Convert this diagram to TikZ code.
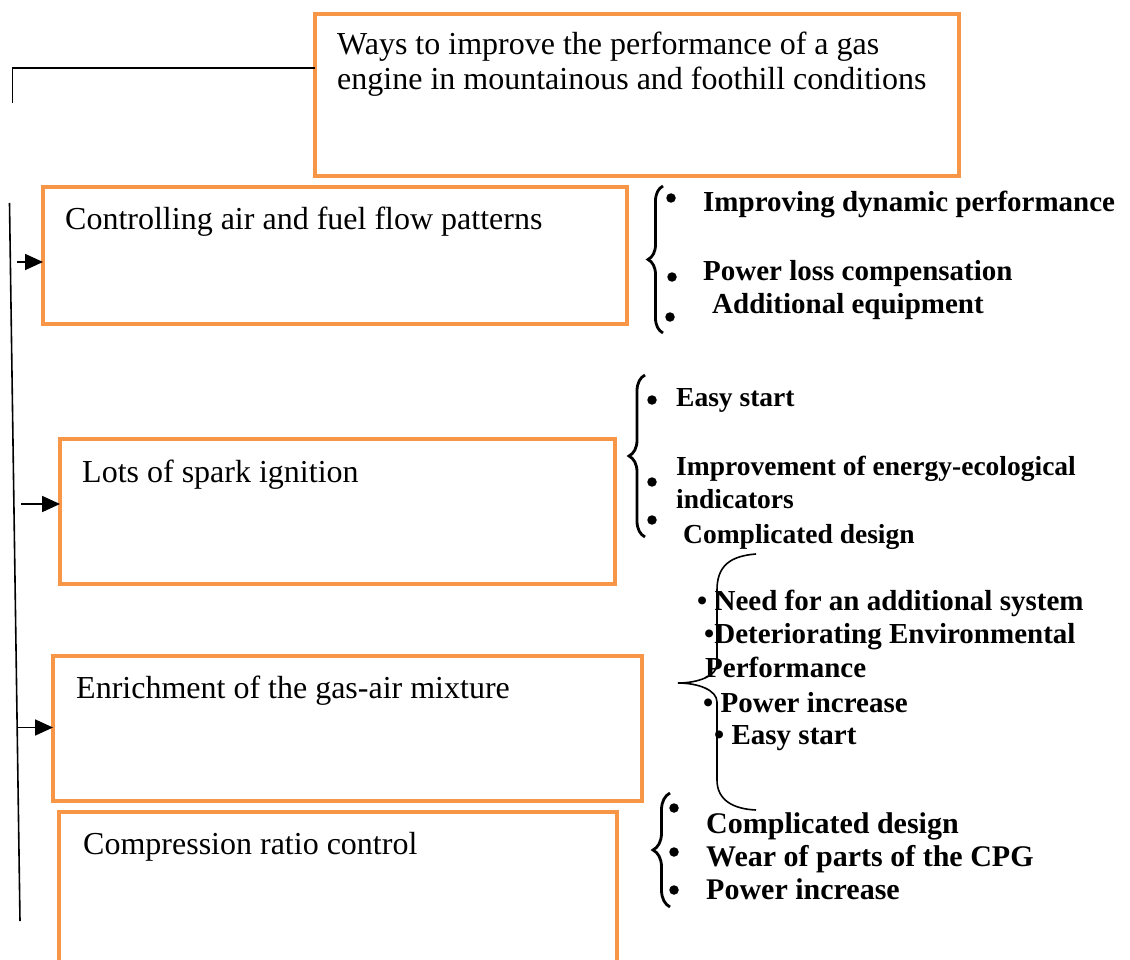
\documentclass[tikz,border=0pt]{standalone}
\usepackage{fontspec}
\setmainfont{Liberation Serif}
\usetikzlibrary{decorations.pathreplacing,arrows.meta}
\definecolor{orangeb}{HTML}{F79646}
\begin{document}
\begin{tikzpicture}[x=1pt,y=-1pt,
  box/.style={draw=orangeb,line width=4pt,inner sep=0pt,outer sep=0pt,anchor=north west},
  reg/.style={font=\fontsize{32}{35}\selectfont,anchor=base west,inner sep=0pt},
  bA/.style={font=\fontsize{29}{33}\selectfont\bfseries,anchor=base west,inner sep=0pt},
  bB/.style={font=\fontsize{27.5}{33}\selectfont\bfseries,anchor=base west,inner sep=0pt},
  bC/.style={font=\fontsize{29}{33}\selectfont\bfseries,anchor=base west,inner sep=0pt},
  bD/.style={font=\fontsize{30}{33}\selectfont\bfseries,anchor=base west,inner sep=0pt},
  dot/.style={circle,fill=black,inner sep=0pt,minimum size=9.5pt},
  thinl/.style={black,line width=1.6pt},
  arr/.style={black,line width=1.8pt,-{Triangle[length=18pt,width=16pt]}},
  brc/.style={black,line width=2.8pt,decorate}]
\clip (0,0) rectangle (1130,960);
\fill[white] (0,0) rectangle (1130,960);
% boxes
\node[box,minimum width=644.5pt,minimum height=162pt] (top) at (314.5,14) {};
\node[box,minimum width=584pt,minimum height=136.5pt] (b1) at (43,187.5) {};
\node[box,minimum width=555pt,minimum height=145pt] (b2) at (60,439) {};
\node[box,minimum width=589pt,minimum height=145.5pt] (b3) at (53,655.5) {};
\node[box,minimum width=558pt,minimum height=178pt] (b4) at (59,812) {};
% box texts
\node[reg] (t1) at (337,55) {Ways to improve the performance of a gas};
\node[reg] (t2) at (337,90) {engine in mountainous and foothill conditions};
\node[reg] (l1) at (65,230) {Controlling air and fuel flow patterns};
\node[reg] (l2) at (82,482) {Lots of spark ignition};
\node[reg] (l3) at (76,698) {Enrichment of the gas-air mixture};
\node[reg] (l4) at (83,854) {Compression ratio control};
% connectors
\coordinate (h1) at (12.5,68);
\coordinate (h2) at (12.5,103);
\draw[thinl] (h1 -| top.west) -- (h1) -- (h2);
\coordinate (v1) at (9.5,203);
\coordinate (v2) at (20,921);
\draw[thinl] (v1) -- (v2);
\coordinate (a1) at (17,262);
\coordinate (a2) at (21,504);
\coordinate (a3) at (18,727.5);
\draw[arr] (a1) -- (a1 -| b1.west);
\draw[arr] (a2) -- (a2 -| b2.west);
\draw[arr] (a3) -- (a3 -| b3.west);
% group 1
\coordinate (g1a) at (663,333);
\coordinate (g1b) at (663,186);
\draw[brc,decoration={brace,amplitude=15pt}] (g1a) -- (g1b);
\node[dot] (p11) at (671,198) {};
\node[dot] (p12) at (672,277) {};
\node[dot] (p13) at (670,317) {};
\node[bA] (r11) at (703,212) {Improving dynamic performance};
\node[bA] (r12) at (703,280) {Power loss compensation};
\node[bA] (r13) at (712,313) {Additional equipment};
% group 2
\coordinate (g2a) at (645,537);
\coordinate (g2b) at (645,375);
\draw[brc,decoration={brace,amplitude=16pt}] (g2a) -- (g2b);
\node[dot] (p21) at (652,400) {};
\node[dot] (p22) at (652,482) {};
\node[dot] (p23) at (652,520) {};
\node[bB] (r21) at (676,406) {Easy start};
\node[bB] (r22) at (676,475) {Improvement of energy-ecological};
\node[bB] (r23) at (676,508) {indicators};
\node[bB] (r24) at (683,543) {Complicated design};
% group 3
\draw[thinl] (756,554) .. controls (730,556) and (717,566) .. (717,590)
  -- (717,664) .. controls (717,676) and (698,683) .. (678,683)
  .. controls (698,683) and (717,690) .. (717,702)
  -- (717,780) .. controls (717,800) and (733,809) .. (756,810);
\node[bC] (r31) at (697,610) {• Need for an additional system};
\node[bC] (r32) at (704,643) {•Deteriorating Environmental};
\node[bC] (r33) at (705,677) {Performance};
\node[bC] (r34) at (703,712) {• Power increase};
\node[bC] (r35) at (714,744) {• Easy start};
% group 4
\coordinate (g4a) at (670,907);
\coordinate (g4b) at (670,793);
\draw[brc,decoration={brace,amplitude=17pt}] (g4a) -- (g4b);
\node[dot] (p41) at (674,808) {};
\node[dot] (p42) at (674,852) {};
\node[dot] (p43) at (674,890) {};
\node[bD] (r41) at (706,833) {Complicated design};
\node[bD] (r42) at (706,866) {Wear of parts of the CPG};
\node[bD] (r43) at (706,899) {Power increase};
\end{tikzpicture}
\end{document}
